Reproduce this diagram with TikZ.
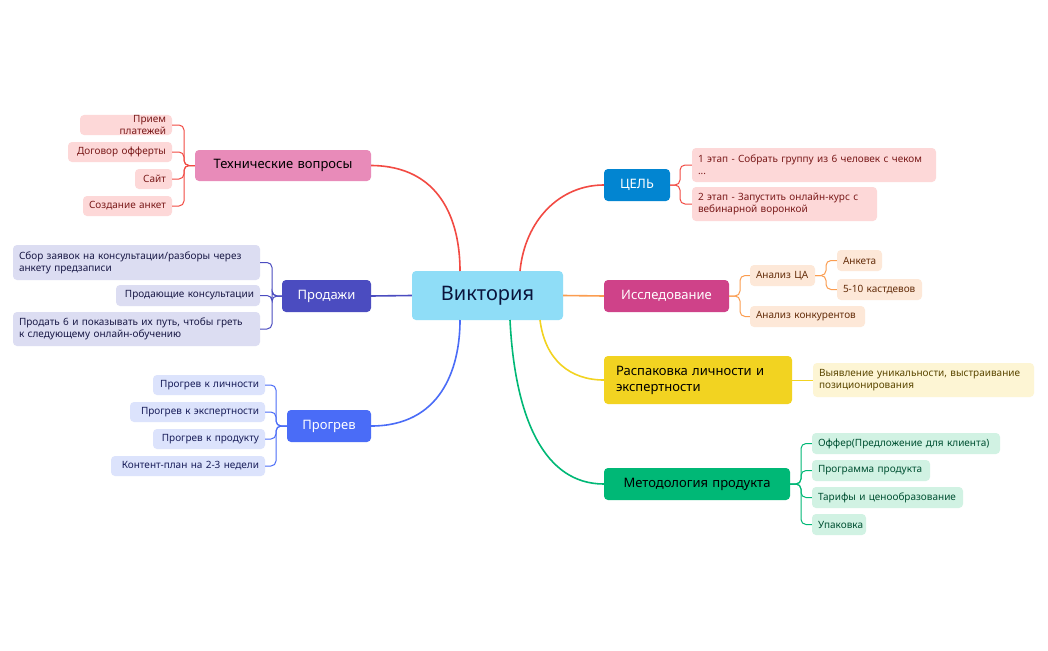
\documentclass[tikz,border=0pt]{standalone}
\usepackage{fontspec}
\setmainfont{Noto Sans}
\begin{document}
\begin{tikzpicture}[x=1pt,y=-1pt,
  box/.style={rounded corners=4pt,inner sep=0pt},
  leaf/.style={box,align=left,font=\fontsize{10}{12}\selectfont},
  main/.style={box,align=center,font=\bfseries\fontsize{13}{16}\selectfont},
  rt/.style={align=right},
  con/.style={line width=1.6pt},
  sub/.style={line width=1pt,rounded corners=5pt}]
\newcommand\bx[7]{\node[minimum width={(#4-#2)*1pt},minimum height={(#5-#3)*1pt},text width={(#4-#2-12)*1pt},#6] (#1) at ({(#2+#4)/2},{(#3+#5)/2}) {#7};}
\definecolor{cRed}{HTML}{F24A43}
\definecolor{cNavy}{HTML}{4B4CC0}
\definecolor{cBlue}{HTML}{4A6CF7}
\definecolor{cOr}{HTML}{FB9D50}
\definecolor{cYel}{HTML}{F2D321}
\definecolor{cGr}{HTML}{00B876}
\useasboundingbox (0,0) rectangle (1048,650);
\fill[white] (0,0) rectangle (1048,650);
% center
\bx{c}{412}{271}{563}{320}{box,align=center,fill={rgb,255:red,143;green,221;blue,247},text={rgb,255:red,10;green,20;blue,60},font=\bfseries\fontsize{20}{24}\selectfont}{Виктория}
% main branches
\bx{tech}{195}{150}{371}{181}{main,fill={rgb,255:red,232;green,139;blue,185}}{Технические вопросы}
\bx{sales}{282}{280}{371}{312}{main,fill=cNavy,text=white}{Продажи}
\bx{warm}{287}{410}{371}{442}{main,fill=cBlue,text=white}{Прогрев}
\bx{goal}{604}{169}{670}{201}{main,fill={rgb,255:red,2;green,133;blue,209},text=white}{ЦЕЛЬ}
\bx{res}{604}{280}{729}{312}{main,fill={rgb,255:red,207;green,66;blue,137},text=white}{Исследование}
\bx{unp}{604}{356}{792}{404}{main,align=left,fill=cYel,text width=164pt}{Распаковка личности и\\экспертности}
\bx{meth}{604}{468}{790}{500}{main,fill=cGr}{Методология продукта}
% connectors center
\coordinate (c1) at (460,271);
\coordinate (c2) at (520,271);
\coordinate (c3) at (540,320);
\coordinate (c4) at (510,320);
\coordinate (c5) at (460,320);
\draw[con,cRed] (tech.east) .. controls (440,166) and (460,220) .. (c1);
\draw[con,cNavy] (sales.east) -- (c.west);
\draw[con,cBlue] (warm.east) .. controls (440,426) and (460,370) .. (c5);
\draw[con,cRed] (goal.west) .. controls (560,185) and (525,220) .. (c2);
\draw[con,cOr] (c.east) -- (res.west);
\draw[con,cYel] (unp.west) .. controls (570,380) and (545,360) .. (c3);
\draw[con,cGr] (meth.west) .. controls (545,484) and (515,420) .. (c4);
% tech leaves
\begin{scope}[every node/.append style={leaf,fill={rgb,255:red,253;green,216;blue,216},text={rgb,255:red,122;green,26;blue,26}}]
\bx{t1}{80}{115}{172}{135}{rt}{Прием платежей}
\bx{t2}{68}{142}{172}{162}{rt}{Договор офферты}
\bx{t3}{135}{169}{172}{189}{rt}{Сайт}
\bx{t4}{83}{196}{172}{216}{rt}{Создание анкет}
\bx{g1}{692}{148}{936}{182}{}{1 этап - Собрать группу из 6 человек с чеком\\...}
\bx{g2}{692}{187}{877}{221}{}{2 этап - Запустить онлайн-курс с\\вебинарной воронкой}
\end{scope}
\foreach \n in {t1,t2,t3,t4} \draw[sub,cRed] (tech.west) -- (184,165.5) |- (\n.east);
\foreach \n in {g1,g2} \draw[sub,cRed] (goal.east) -- (680,185) |- (\n.west);
% sales leaves
\begin{scope}[every node/.append style={leaf,fill={rgb,255:red,220;green,221;blue,242},text={rgb,255:red,25;green,25;blue,70}}]
\bx{s1}{13}{245}{260}{280}{}{Сбор заявок на консультации/разборы через\\анкету предзаписи}
\bx{s2}{116}{285}{260}{306}{rt}{Продающие консультации}
\bx{s3}{13}{312}{260}{346}{}{Продать 6 и показывать их путь, чтобы греть\\к следующему онлайн-обучению}
\end{scope}
\foreach \n in {s1,s2,s3} \draw[sub,cNavy] (sales.west) -- (272,296) |- (\n.east);
% warm leaves
\begin{scope}[every node/.append style={leaf,fill={rgb,255:red,220;green,227;blue,252},text={rgb,255:red,25;green,30;blue,90}}]
\bx{w1}{153}{375}{265}{395}{rt}{Прогрев к личности}
\bx{w2}{130}{402}{265}{422}{rt}{Прогрев к экспертности}
\bx{w3}{153}{429}{265}{449}{rt}{Прогрев к продукту}
\bx{w4}{111}{456}{265}{476}{rt}{Контент-план на 2-3 недели}
\end{scope}
\foreach \n in {w1,w2,w3,w4} \draw[sub,cBlue] (warm.west) -- (276,426) |- (\n.east);
% research
\begin{scope}[every node/.append style={leaf,fill={rgb,255:red,253;green,232;blue,216},text={rgb,255:red,100;green,45;blue,10}}]
\bx{r1}{750}{265}{815}{286}{}{Анализ ЦА}
\bx{r2}{750}{306}{865}{327}{}{Анализ конкурентов}
\bx{r11}{837}{250}{882}{271}{}{Анкета}
\bx{r12}{837}{279}{922}{300}{}{5-10 кастдевов}
\end{scope}
\foreach \n in {r1,r2} \draw[sub,cOr] (res.east) -- (740,296) |- (\n.west);
\foreach \n in {r11,r12} \draw[sub,cOr] (r1.east) -- (826,275.5) |- (\n.west);
% unpacking
\bx{u1}{813}{363}{1034}{397}{leaf,fill={rgb,255:red,253;green,245;blue,212},text={rgb,255:red,90;green,70;blue,0}}{Выявление уникальности, выстраивание\\позиционирования}
\draw[sub,cYel] (unp.east) -- (u1.west);
% methodology
\begin{scope}[every node/.append style={leaf,fill={rgb,255:red,209;green,242;blue,227},text={rgb,255:red,0;green,80;blue,50}}]
\bx{m1}{812}{433}{1000}{454}{}{Оффер(Предложение для клиента)}
\bx{m2}{812}{460}{930}{481}{}{Программа продукта}
\bx{m3}{812}{487}{963}{508}{}{Тарифы и ценообразование}
\bx{m4}{812}{514}{866}{535}{}{Упаковка}
\end{scope}
\foreach \n in {m1,m2,m3,m4} \draw[sub,cGr] (meth.east) -- (801,484) |- (\n.west);
\end{tikzpicture}
\end{document}
